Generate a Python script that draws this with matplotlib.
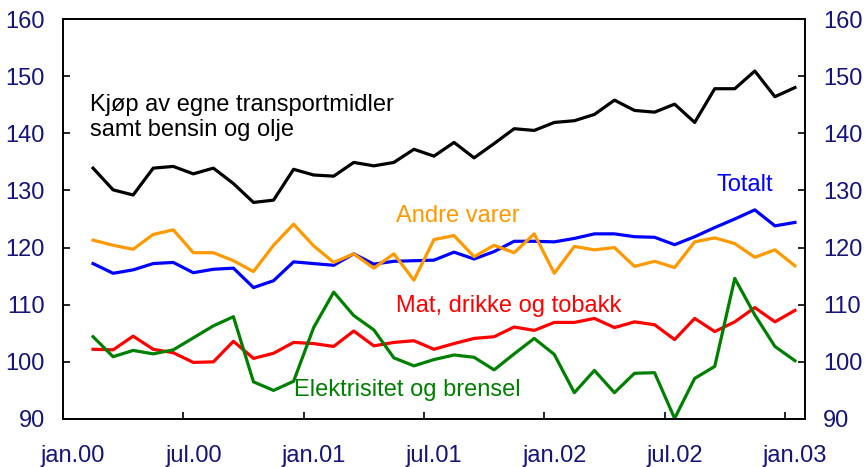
import matplotlib
matplotlib.use("Agg")
import matplotlib.pyplot as plt
import numpy as np
import pandas as pd

plt.rcParams["font.family"] = ["Liberation Sans", "DejaVu Sans"]

# monthly index values, feb.2000 - jan.2003
months = pd.period_range("2000-02", "2003-01", freq="M")

transport = [133.9, 130.1, 129.2, 133.9, 134.2, 132.9, 133.9, 131.2, 127.9, 128.3,
             133.7, 132.7, 132.5, 134.9, 134.3, 134.9, 137.2, 136.0, 138.4, 135.7,
             138.2, 140.8, 140.5, 141.9, 142.2, 143.3, 145.8, 144.0, 143.7, 145.1,
             141.9, 147.8, 147.8, 150.9, 146.4, 148.0]
totalt = [117.2, 115.5, 116.1, 117.2, 117.4, 115.6, 116.2, 116.4, 113.0, 114.2,
          117.5, 117.2, 116.9, 118.9, 117.1, 117.6, 117.7, 117.8, 119.2, 118.0,
          119.3, 121.1, 121.1, 121.0, 121.6, 122.4, 122.4, 121.9, 121.8, 120.5,
          121.9, 123.5, 125.0, 126.6, 123.8, 124.4]
andre = [121.3, 120.4, 119.7, 122.3, 123.1, 119.1, 119.1, 117.7, 115.8, 120.4,
         124.1, 120.3, 117.4, 118.9, 116.4, 118.9, 114.3, 121.4, 122.1, 118.4,
         120.4, 119.1, 122.4, 115.5, 120.2, 119.6, 120.0, 116.7, 117.6, 116.5,
         121.0, 121.7, 120.7, 118.3, 119.6, 116.8]
mat = [102.2, 102.1, 104.5, 102.2, 101.6, 99.9, 100.0, 103.6, 100.6, 101.5,
       103.4, 103.2, 102.7, 105.4, 102.8, 103.4, 103.7, 102.2, 103.2, 104.1,
       104.4, 106.1, 105.5, 106.9, 106.9, 107.6, 106.0, 107.0, 106.5, 103.9,
       107.6, 105.3, 107.0, 109.5, 107.0, 109.0]
elektr = [104.4, 100.9, 102.0, 101.4, 102.1, 104.2, 106.3, 107.9, 96.5, 95.0,
          96.6, 106.0, 112.2, 108.1, 105.6, 100.7, 99.3, 100.4, 101.2, 100.8,
          98.6, 101.4, 104.1, 101.3, 94.6, 98.5, 94.6, 98.0, 98.1, 90.1,
          97.1, 99.2, 114.6, 108.2, 102.7, 100.2]

tick_labels = ["jan.00", "jul.00", "jan.01", "jul.01", "jan.02", "jul.02", "jan.03"]
yticks = [90, 100, 110, 120, 130, 140, 150, 160]

navy = "#14147a"
orange = "#ff9900"
green = "#008000"

# x = months since jan.2000, points at mid-month
start = pd.Period("2000-01", freq="M")
x = np.array([(m - start).n for m in months]) + 0.5

fig = plt.figure(figsize=(8.65, 4.67), dpi=100)
ax = fig.add_axes([0.0728, 0.1028, 0.8578, 0.8565])

lw = 2.3
ax.plot(x, transport, color="black", lw=lw)
ax.plot(x, totalt, color="blue", lw=lw)
ax.plot(x, andre, color=orange, lw=lw)
ax.plot(x, mat, color="red", lw=lw)
ax.plot(x, elektr, color=green, lw=lw)

fs = 17
ax.text(1.35, 142.8, "Kjøp av egne transportmidler\nsamt bensin og olje",
        color="black", fontsize=fs, ha="left", va="center", linespacing=1.2)
ax.text(32.6, 131.0, "Totalt", color="blue", fontsize=fs, ha="left", va="center")
ax.text(16.6, 125.6, "Andre varer", color=orange, fontsize=fs, ha="left", va="center")
ax.text(16.6, 109.8, "Mat, drikke og tobakk", color="red", fontsize=fs,
        ha="left", va="center")
ax.text(11.5, 95.1, "Elektrisitet og brensel", color=green, fontsize=fs,
        ha="left", va="center")

ax.set_xlim(0, 37)
ax.set_ylim(90, 160)

# tick marks on month boundaries, labels under the mid-month points
ax.set_xticks(np.arange(0, 37, 6))
ax.set_xticklabels([])
ax.set_xticks(np.arange(0, 37, 6) + 0.5, minor=True)
ax.set_xticklabels(tick_labels, minor=True)
ax.tick_params(axis="x", which="major", direction="in", length=5, width=1.2)
ax.tick_params(axis="x", which="minor", length=0, pad=19, labelsize=17,
               labelcolor=navy)

ax.set_yticks(yticks)
ax.tick_params(axis="y", direction="in", length=5, width=1.2, labelsize=17,
               labelcolor=navy, pad=13, left=True, right=True,
               labelleft=True, labelright=True)

for s in ax.spines.values():
    s.set_linewidth(1.4)

fig.savefig("out.png", dpi=100)
